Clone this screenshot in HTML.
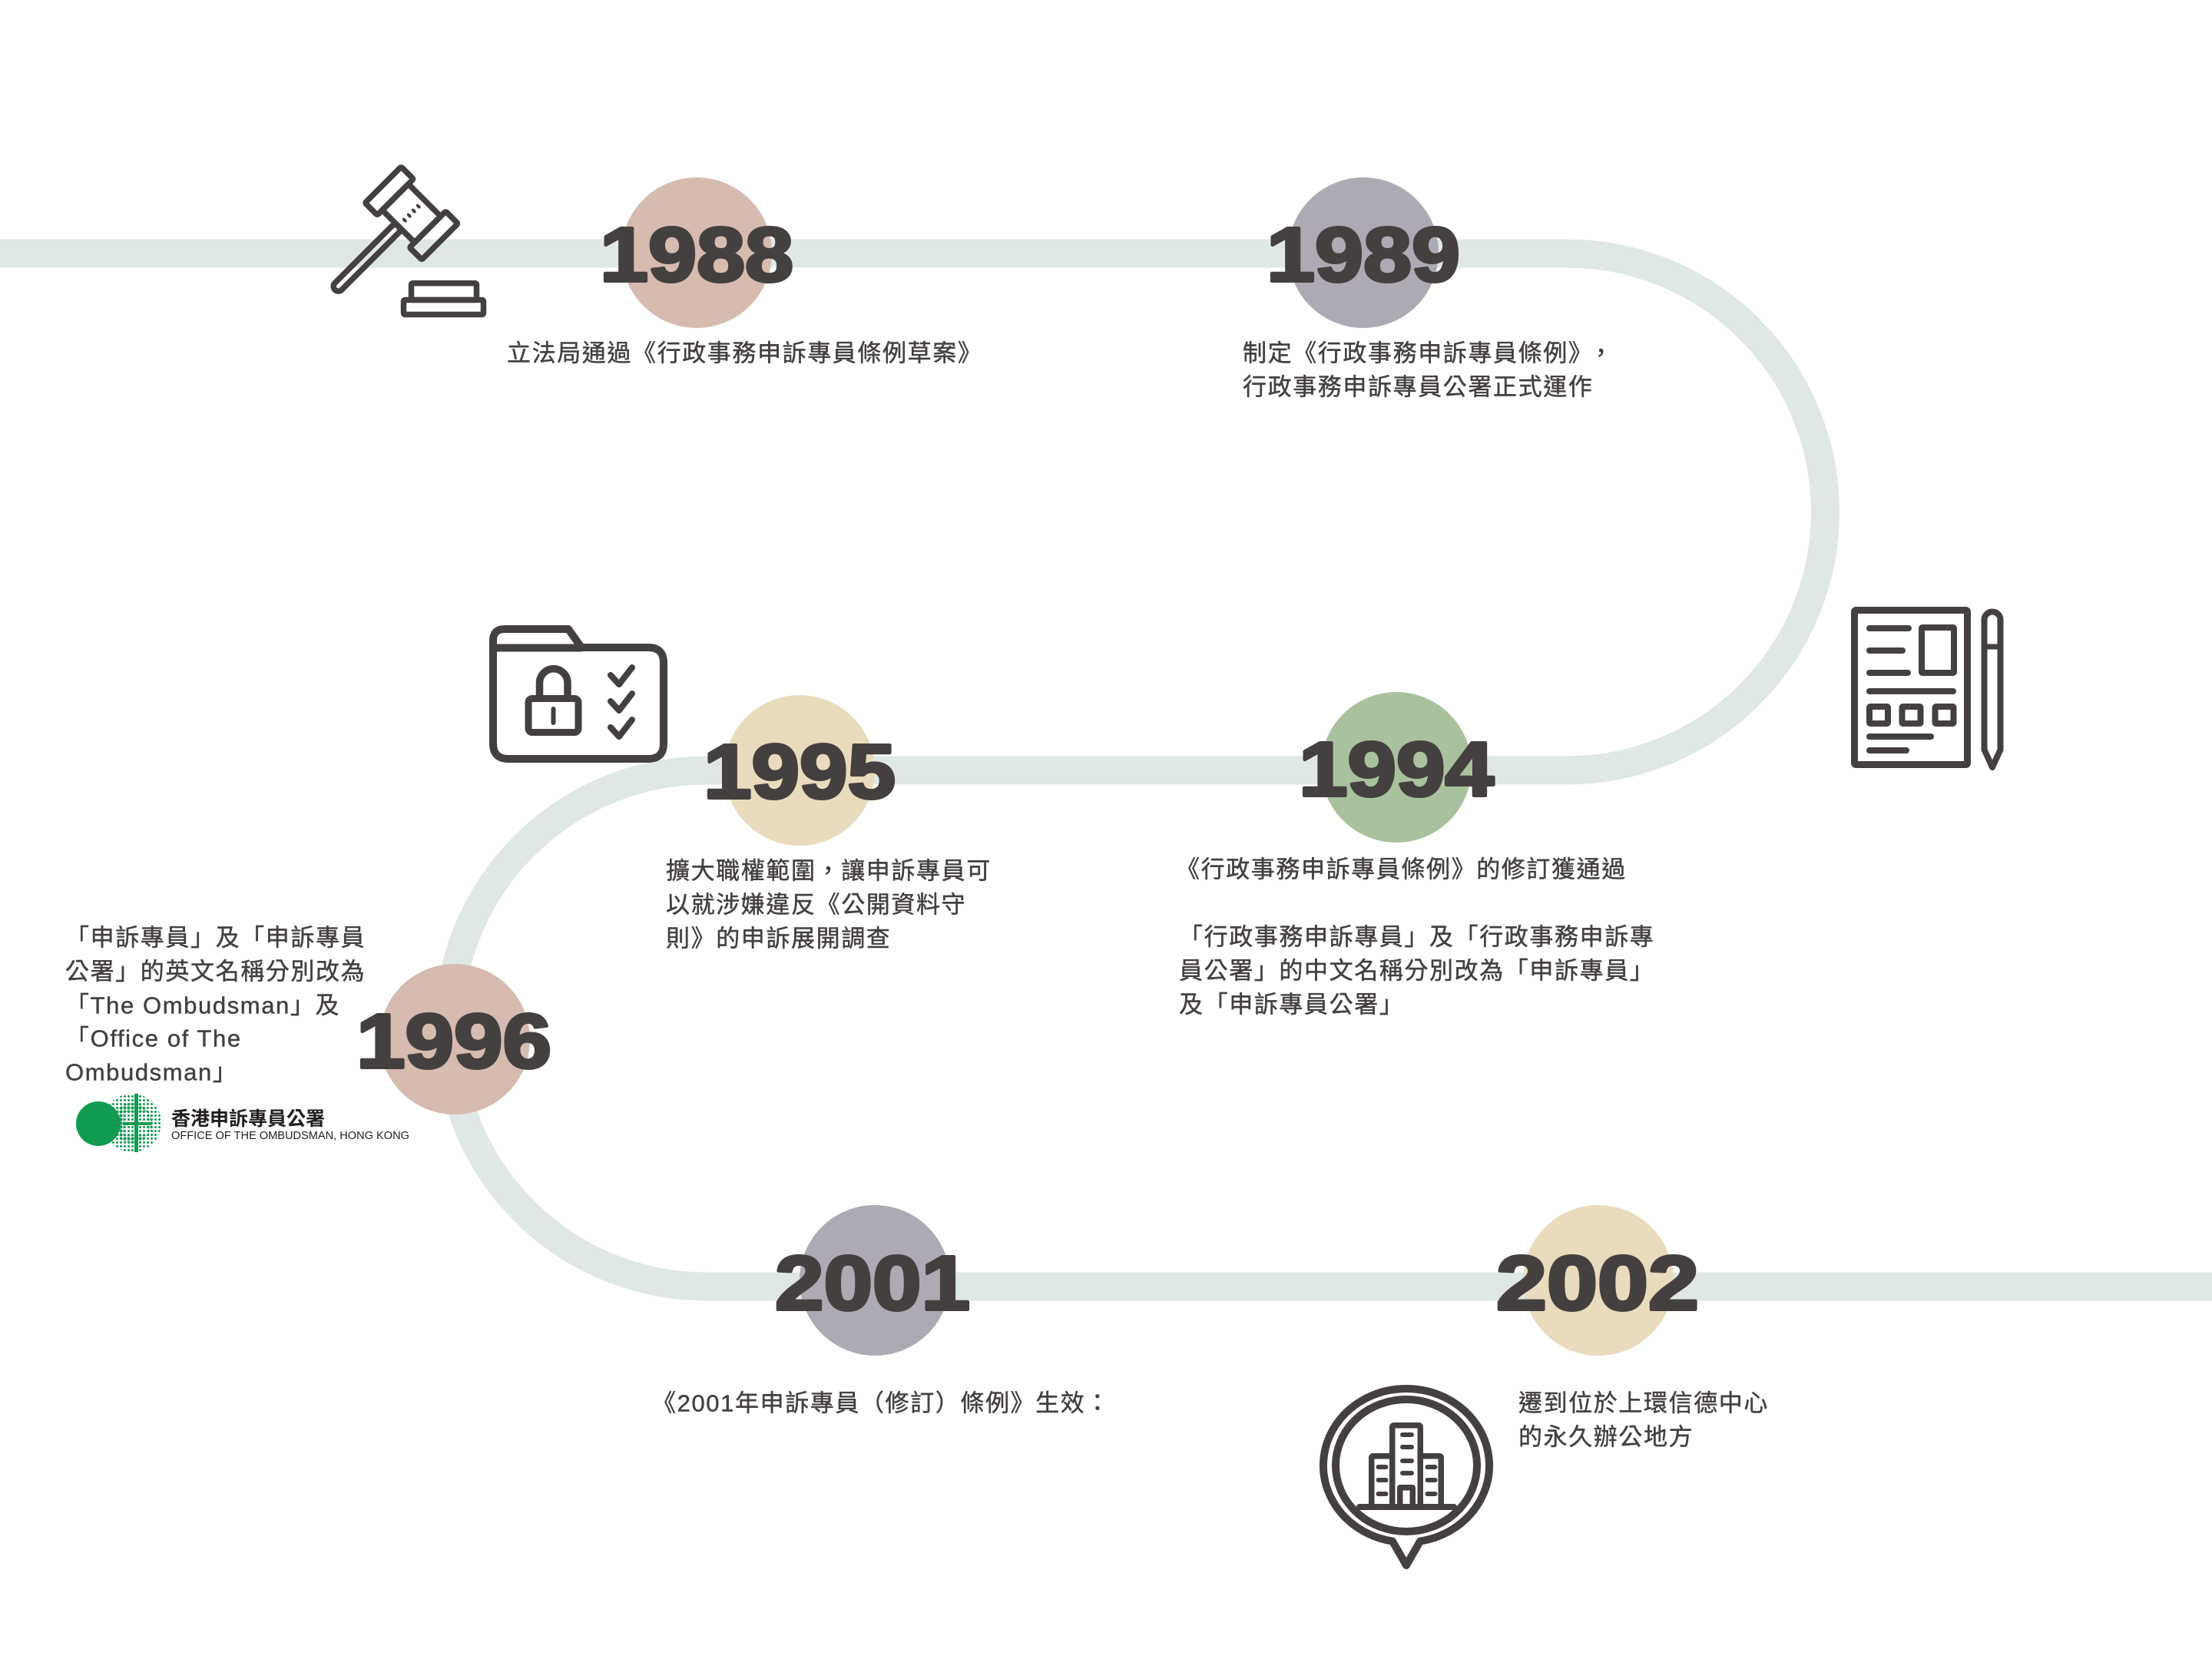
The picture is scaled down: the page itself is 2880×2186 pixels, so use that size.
<!DOCTYPE html>
<html>
<head>
<meta charset="utf-8">
<style>
html,body{margin:0;padding:0;background:#fff;}
body{width:2880px;height:2186px;position:relative;overflow:hidden;}
svg{position:absolute;left:0;top:0;}
.b{font-family:"Liberation Sans","Noto Sans CJK TC",sans-serif;font-size:31px;letter-spacing:1.6px;fill:#454040;stroke:#454040;stroke-width:0.45px;}
.y{font-family:"Liberation Sans",sans-serif;font-weight:bold;font-size:100px;fill:#454040;stroke:#454040;stroke-width:4px;stroke-linejoin:round;}
</style>
</head>
<body>
<svg width="2880" height="2186" viewBox="0 0 2880 2186" xmlns="http://www.w3.org/2000/svg">
  <defs>
    <pattern id="dots" width="5" height="5" patternUnits="userSpaceOnUse">
      <circle cx="2.5" cy="2.5" r="1.5" fill="#119a52"/>
    </pattern>
    <pattern id="dotsB" width="5" height="5" patternUnits="userSpaceOnUse">
      <circle cx="2.5" cy="2.5" r="2.1" fill="#119a52"/>
    </pattern>
  </defs>

  <!-- track -->
  <path d="M0,330 H2040 A336.5,336.5 0 0 1 2040,1003 H920 A336,336 0 0 0 920,1675 H2880" fill="none" stroke="#dfe8e4" stroke-width="37"/>

  <!-- circles -->
  <circle cx="907" cy="329" r="98" fill="#d5bbb0"/>
  <circle cx="1775" cy="329" r="98" fill="#adaab3"/>
  <circle cx="1041" cy="1003" r="98" fill="#e9dbbd"/>
  <circle cx="1818" cy="999" r="98" fill="#aac19f"/>
  <circle cx="592" cy="1353" r="98" fill="#d5bbb0"/>
  <circle cx="1139" cy="1667" r="98" fill="#adaab3"/>
  <circle cx="2081" cy="1667" r="98" fill="#e9dbbd"/>

  <!-- gavel -->
  <g stroke="#454040" stroke-width="7.5" fill="none" stroke-linejoin="round">
    <g transform="translate(535.75,277.6) rotate(45)">
      <rect x="-52.25" y="-33.25" width="22.5" height="66.5" rx="2"/>
      <rect x="29.75" y="-33.25" width="22.5" height="66.5" rx="2"/>
      <rect x="-29.75" y="-24" width="59.5" height="48"/>
      <rect x="-6.25" y="24" width="12.5" height="117" rx="6.25"/>
      <g fill="#454040" stroke="none">
        <ellipse cx="0" cy="-12.75" rx="3.6" ry="2.1"/>
        <ellipse cx="0" cy="-4.25" rx="3.6" ry="2.1"/>
        <ellipse cx="0" cy="4.25" rx="3.6" ry="2.1"/>
        <ellipse cx="0" cy="12.75" rx="3.6" ry="2.1"/>
      </g>
    </g>
    <rect x="535.5" y="368.75" width="85" height="21.75" rx="2"/>
    <rect x="525.5" y="390.5" width="104" height="19" rx="2"/>
  </g>

  <!-- document + pen icon -->
  <g stroke="#454040" fill="none" stroke-linecap="round" stroke-linejoin="round">
    <rect x="2414.5" y="794.5" width="147" height="201" rx="2" stroke-width="9"/>
    <g stroke-width="8">
      <line x1="2434" y1="818" x2="2485" y2="818"/>
      <line x1="2434" y1="847" x2="2477" y2="847"/>
      <line x1="2434" y1="876" x2="2484" y2="876"/>
      <rect x="2502" y="817" width="42" height="59" rx="1"/>
      <line x1="2434" y1="900" x2="2543" y2="900"/>
      <rect x="2434" y="920" width="24" height="22" rx="1"/>
      <rect x="2476.5" y="920" width="24" height="22" rx="1"/>
      <rect x="2519.5" y="920" width="24" height="22" rx="1"/>
      <line x1="2434" y1="959" x2="2514" y2="959"/>
      <line x1="2434" y1="977" x2="2482" y2="977"/>
    </g>
    <path d="M2583.5,976 V807 A10.5,10.5 0 0 1 2604.5,807 V976 L2594,999 Z" stroke-width="8"/>
    <line x1="2583.5" y1="842" x2="2604.5" y2="842" stroke-width="7" stroke-linecap="butt"/>
  </g>

  <!-- folder icon -->
  <g stroke="#454040" fill="none" stroke-linecap="round" stroke-linejoin="round">
    <path d="M662,988 Q642,988 642,968 V834 Q642,819 657,819 H740 L757,843 H844 Q864,843 864,863 V968 Q864,988 844,988 Z" stroke-width="10"/>
    <line x1="642" y1="843.5" x2="757" y2="843.5" stroke-width="10"/>
    <path d="M702.5,908 V889 A18.25,18.25 0 0 1 739,889 V908" stroke-width="9.5"/>
    <rect x="688" y="909.5" width="65" height="44" rx="5" stroke-width="9"/>
    <line x1="720.5" y1="923" x2="720.5" y2="941" stroke-width="6"/>
    <polyline points="795,879 806,891 823,869" stroke-width="8"/>
    <polyline points="795,913 806,925 823,903" stroke-width="8"/>
    <polyline points="795,947 806,959 823,937" stroke-width="8"/>
  </g>

  <!-- building pin icon -->
  <g stroke="#454040" fill="none" stroke-linejoin="round">
    <path d="M1813,2006.6 A108,100 0 1 1 1849,2006.6 L1831,2038 Z" stroke-width="10"/>
    <ellipse cx="1831" cy="1908" rx="92" ry="86" stroke-width="10"/>
    <g stroke-width="7.5">
      <rect x="1812.75" y="1855.75" width="36.5" height="106" rx="2"/>
      <rect x="1785.75" y="1895.75" width="27" height="66" rx="2"/>
      <rect x="1849.25" y="1895.75" width="27" height="66" rx="2"/>
      <rect x="1822.75" y="1936.75" width="16.5" height="25"/>
    </g>
    <line x1="1770" y1="1962" x2="1893" y2="1962" stroke-width="8" stroke-linecap="round"/>
    <g stroke-width="6" stroke-linecap="round">
      <line x1="1826" y1="1868" x2="1838" y2="1868"/>
      <line x1="1826" y1="1884" x2="1838" y2="1884"/>
      <line x1="1826" y1="1902" x2="1838" y2="1902"/>
      <line x1="1826" y1="1918" x2="1838" y2="1918"/>
      <line x1="1794.5" y1="1910" x2="1804.5" y2="1910"/>
      <line x1="1794.5" y1="1927" x2="1804.5" y2="1927"/>
      <line x1="1794.5" y1="1945" x2="1804.5" y2="1945"/>
      <line x1="1858.5" y1="1910" x2="1868.5" y2="1910"/>
      <line x1="1858.5" y1="1927" x2="1868.5" y2="1927"/>
      <line x1="1858.5" y1="1945" x2="1868.5" y2="1945"/>
    </g>
  </g>

  <!-- logo -->
  <g>
    <circle cx="128" cy="1463" r="29" fill="#119a52"/>
    <circle cx="172" cy="1462" r="38" fill="url(#dots)"/>
    <circle cx="172" cy="1462" r="26" fill="url(#dotsB)"/>
    <rect x="162" y="1448" width="13" height="13" fill="#fff"/>
    <rect x="180" y="1448" width="13" height="13" fill="#fff"/>
    <rect x="162" y="1465" width="13" height="13" fill="#fff"/>
    <rect x="180" y="1465" width="13" height="13" fill="#fff"/>
    <rect x="162" y="1448" width="13" height="13" fill="url(#dots)"/>
    <rect x="180" y="1448" width="13" height="13" fill="url(#dots)"/>
    <rect x="162" y="1465" width="13" height="13" fill="url(#dots)"/>
    <rect x="180" y="1465" width="13" height="13" fill="url(#dots)"/>
    <rect x="175" y="1424" width="5" height="76" fill="#119a52"/>
    <rect x="160" y="1461" width="36" height="4" fill="#119a52"/>
    <text x="223" y="1465" font-family="'Liberation Sans','Noto Sans CJK TC',sans-serif" font-weight="bold" font-size="25" fill="#231f20">香港申訴專員公署</text>
    <text x="223" y="1483" font-family="'Liberation Sans',sans-serif" font-size="15" fill="#231f20" textLength="310" lengthAdjust="spacingAndGlyphs">OFFICE OF THE OMBUDSMAN, HONG KONG</text>
  </g>

  <!-- years -->
  <text class="y" x="907" y="366" text-anchor="middle" textLength="252" lengthAdjust="spacingAndGlyphs">1988</text>
  <text class="y" x="1775" y="366" text-anchor="middle" textLength="252" lengthAdjust="spacingAndGlyphs">1989</text>
  <text class="y" x="1041" y="1039" text-anchor="middle" textLength="250" lengthAdjust="spacingAndGlyphs">1995</text>
  <text class="y" x="1818" y="1036" text-anchor="middle" textLength="254" lengthAdjust="spacingAndGlyphs">1994</text>
  <text class="y" x="591" y="1390" text-anchor="middle" textLength="254" lengthAdjust="spacingAndGlyphs">1996</text>
  <text class="y" x="1136" y="1705" text-anchor="middle" textLength="254" lengthAdjust="spacingAndGlyphs">2001</text>
  <text class="y" x="2080" y="1705" text-anchor="middle" textLength="264" lengthAdjust="spacingAndGlyphs">2002</text>

  <!-- body text -->
  <text class="b" x="660" y="470.5">立法局通過《行政事務申訴專員條例草案》</text>

  <text class="b" x="1618" y="470.5">制定《行政事務申訴專員條例》<tspan dx="10">，</tspan></text>
  <text class="b" x="1618" y="514.5">行政事務申訴專員公署正式運作</text>

  <text class="b" x="867" y="1144.5">擴大職權範圍，讓申訴專員可</text>
  <text class="b" x="867" y="1188.5">以就涉嫌違反《公開資料守</text>
  <text class="b" x="867" y="1232.5">則》的申訴展開調查</text>

  <text class="b" x="1531" y="1142.5">《行政事務申訴專員條例》的修訂獲通過</text>
  <text class="b" x="1535" y="1230.5">「行政事務申訴專員」及「行政事務申訴專</text>
  <text class="b" x="1535" y="1274.5">員公署」的中文名稱分別改為「申訴專員」</text>
  <text class="b" x="1535" y="1318.5">及「申訴專員公署」</text>

  <text class="b" x="85" y="1231.5">「申訴專員」及「申訴專員</text>
  <text class="b" x="85" y="1275.5">公署」的英文名稱分別改為</text>
  <text class="b" x="85" y="1319.5">「The Ombudsman」及</text>
  <text class="b" x="85" y="1362.5">「Office of The</text>
  <text class="b" x="85" y="1406.5">Ombudsman」</text>

  <text class="b" x="849" y="1837.5">《2001年申訴專員（修訂）條例》生效：</text>

  <text class="b" x="1977" y="1837.5">遷到位於上環信德中心</text>
  <text class="b" x="1977" y="1881.5">的永久辦公地方</text>
</svg>
</body>
</html>
